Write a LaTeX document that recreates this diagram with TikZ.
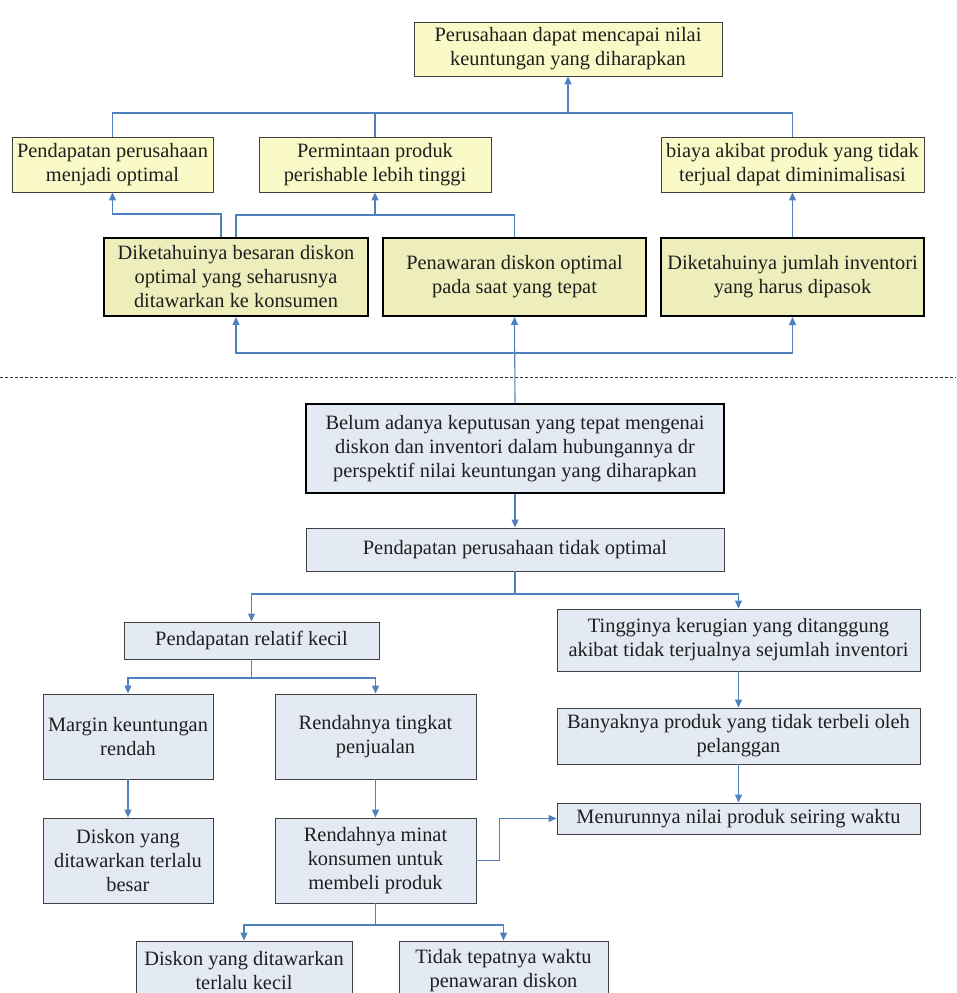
\documentclass[tikz,border=0pt]{standalone}
\usepackage{fontspec}
\setmainfont{Liberation Serif}
\usetikzlibrary{arrows.meta}
\definecolor{lnblue}{HTML}{4F81BD}
\definecolor{yfill}{HTML}{FAFAC8}
\definecolor{yfilldark}{HTML}{EEEEBC}
\definecolor{bfill}{HTML}{E4EAF4}
\begin{document}
\begin{tikzpicture}[x=1pt,y=-1pt,
  box/.style={draw=black!75, line width=0.9pt, align=center, inner sep=0pt,
    font=\fontsize{20.4}{24}\selectfont, text=black!88},
  ybox/.style={box, fill=yfill},
  tbox/.style={box, fill=yfilldark, draw=black, line width=2pt},
  bbox/.style={box, fill=bfill},
  conn/.style={draw=lnblue, line width=1.1pt},
  arr/.style={conn, -{Triangle[length=8pt,width=7pt]}},
]
\useasboundingbox (0,0) rectangle (956,993);

% top level
\node[ybox, minimum width=308pt, minimum height=54pt] (top) at (568,49)
  {Perusahaan dapat mencapai nilai\\keuntungan yang diharapkan};

% row 2
\node[ybox, minimum width=201pt, minimum height=55pt] (A) at (112.5,164.5)
  {Pendapatan perusahaan\\menjadi optimal};
\node[ybox, minimum width=232pt, minimum height=55pt] (B) at (375,164.5)
  {Permintaan produk\\perishable lebih tinggi};
\node[ybox, minimum width=263pt, minimum height=55pt] (C) at (792.5,164.5)
  {biaya akibat produk yang tidak\\terjual dapat diminimalisasi};

% row 3
\node[tbox, minimum width=264pt, minimum height=78pt] (D) at (236,277)
  {Diketahuinya besaran diskon\\optimal yang seharusnya\\ditawarkan ke konsumen};
\node[tbox, minimum width=263pt, minimum height=78pt] (E) at (514.5,277)
  {Penawaran diskon optimal\\pada saat yang tepat};
\node[tbox, minimum width=263pt, minimum height=78pt] (F) at (792.5,277)
  {Diketahuinya jumlah inventori\\yang harus dipasok};

% separator
\draw[black!80, line width=0.6pt, dash pattern=on 3pt off 2pt] (0,377) -- (956,377);

% core problem
\node[bbox, draw=black, line width=2pt, minimum width=418pt, minimum height=89pt] (belum) at (515,448.5)
  {Belum adanya keputusan yang tepat mengenai\\diskon dan inventori dalam hubungannya dr\\perspektif nilai keuntungan yang diharapkan};
\node[bbox, minimum width=418pt, minimum height=43pt] (pto) at (515,549.5)
  {Pendapatan perusahaan tidak optimal};

% lower tree
\node[bbox, minimum width=255pt, minimum height=37pt] (prk) at (251.5,640.5)
  {Pendapatan relatif kecil};
\node[bbox, minimum width=363pt, minimum height=62pt] (ting) at (738.5,640)
  {Tingginya kerugian yang ditanggung\\akibat tidak terjualnya sejumlah inventori};
\node[bbox, minimum width=170pt, minimum height=85pt] (margin) at (128,736.5)
  {Margin keuntungan\\rendah};
\node[bbox, minimum width=201pt, minimum height=85pt] (rtp) at (375.5,736.5)
  {Rendahnya tingkat\\penjualan};
\node[bbox, minimum width=363pt, minimum height=56pt] (banyak) at (738.5,736)
  {Banyaknya produk yang tidak terbeli oleh\\pelanggan};
\node[bbox, minimum width=170pt, minimum height=85pt] (db) at (128,860.5)
  {Diskon yang\\ditawarkan terlalu\\besar};
\node[bbox, minimum width=201pt, minimum height=85pt] (rm) at (375.5,860.5)
  {Rendahnya minat\\konsumen untuk\\membeli produk};
\node[bbox, minimum width=363pt, minimum height=31pt] (menurun) at (738.5,818.5)
  {Menurunnya nilai produk seiring waktu};
\node[bbox, minimum width=216pt, minimum height=60pt] (dk) at (244,971)
  {Diskon yang ditawarkan\\terlalu kecil};
\node[bbox, minimum width=209pt, minimum height=60pt] (tt) at (503.5,971)
  {Tidak tepatnya waktu\\penawaran diskon};

% ---- connectors, upper half
\coordinate (j1) at (568,113);
\draw[conn] (A.north) |- (j1) -| (C.north);
\draw[conn] (B.north) -- (B.north |- j1);
\draw[arr, line width=2pt] (j1) -- (top.south);

\draw[arr] ([xshift=-15pt]D.north) -- ++(0,-23) -| (A.south);
\coordinate (j2) at (375,215);
\draw[conn] (D.north) |- (j2) -| (E.north);
\draw[arr] (j2) -- (B.south);
\draw[arr] (F.north) -- (C.south);

\coordinate (j3) at (515,353);
\draw[arr] (belum.north) -- (E.south);
\draw[arr] (j3) -| (D.south);
\draw[arr] (j3) -| (F.south);

% ---- connectors, lower half
\draw[arr] (belum.south) -- (pto.north);
\coordinate (j4) at (515,594);
\draw[conn] (pto.south) -- (j4);
\draw[arr] (j4) -| (prk.north);
\draw[arr] (j4) -| (ting.north);

\coordinate (j5) at (251.5,678);
\draw[conn] (prk.south) -- (j5);
\draw[arr] (j5) -| (margin.north);
\draw[arr] (j5) -| (rtp.north);

\draw[arr] (ting.south) -- (banyak.north);
\draw[arr] (banyak.south) -- (menurun.north);
\draw[arr] (margin.south) -- (db.north);
\draw[arr] (rtp.south) -- (rm.north);
\draw[arr] (rm.east) -- ++(23,0) |- (menurun.west);

\coordinate (j6) at (375.5,925);
\draw[conn] (rm.south) -- (j6);
\draw[arr] (j6) -| (dk.north);
\draw[arr] (j6) -| (tt.north);
\end{tikzpicture}
\end{document}
